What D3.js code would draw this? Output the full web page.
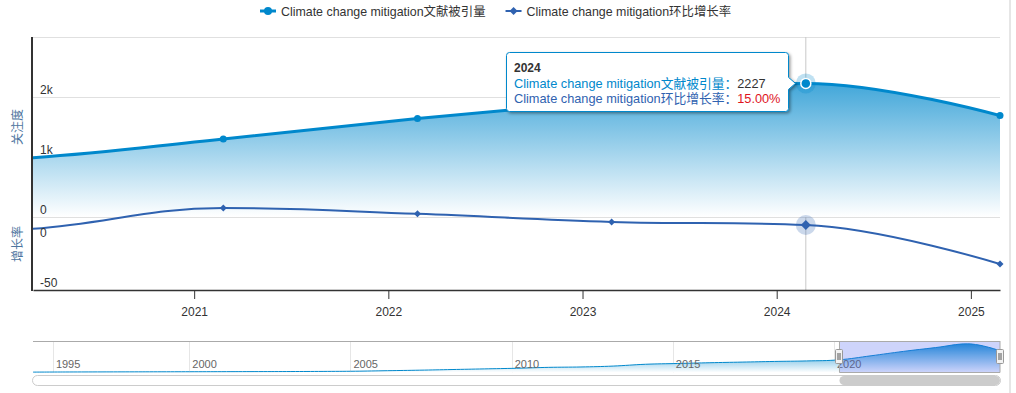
<!DOCTYPE html>
<html><head><meta charset="utf-8">
<script src="https://cdn.jsdelivr.net/npm/d3@7"></script>
<style>
body{margin:0;background:#fff;}
svg{display:block;font-family:"Liberation Sans",Arial,"Noto Sans CJK SC",sans-serif;}
</style>
</head><body>
<svg id="c" width="1016" height="393"></svg>
<script>
// ---------------- data ----------------
const years = [1993,1996,1997,1998,1999,2000,2001,2002,2003,2004,2005,2006,2007,2008,2009,2010,2011,2012,2013,2014,2015,2016,2017,2018,2019,2020,2021,2022,2023,2024,2025];
const citations = [30,40,45,50,55,60,65,70,75,85,100,140,180,230,280,330,400,430,500,640,700,760,810,860,900,985,1300,1640,1937,2227,1690];
const growthYears = [2019,2020,2021,2022,2023,2024,2025];
const growth = [6,11,32,26.2,18.1,15.0,-24.1];
const seriesNames = ["Climate change mitigation文献被引量","Climate change mitigation环比增长率"];
const xTickYears = [2021,2022,2023,2024,2025];
const navTickYears = [1995,2000,2005,2010,2015,2020];
const citationTicks = [0,1000,2000,3000];
const citationTickLabels = ["0","1k","2k",""];
const growthTicks = [0,-50];
const growthTickLabels = ["0","-50"];
const axisTitles = ["关注度","增长率"];
const hoverYear = 2024;
const recordOffset = 0.15;          // records dated late February of each year
const viewRange = [2020.17, 2025.15]; // zoomed range shown in main plot

// ---------------- styles ----------------
const C1 = "#0088cc", C2 = "#2f62b0";
const L = 33, R = 1000;
const svg = d3.select("#c");
const defs = svg.append("defs");

const t = y => y + recordOffset;
const citeData = years.map((y,i)=>({t:t(y), v:citations[i], y}));
const growData = growthYears.map((y,i)=>({t:t(y), v:growth[i], y}));

// Highcharts-like spline curve as a d3 curve factory
function curveHC(context){
  let pts;
  return {
    _line: NaN,
    areaStart(){ this._line = 0; },
    areaEnd(){ this._line = NaN; },
    lineStart(){ pts = []; },
    point(x,y){ pts.push([+x,+y]); },
    lineEnd(){
      if(!pts.length) return;
      if(this._line) context.lineTo(pts[0][0],pts[0][1]); else context.moveTo(pts[0][0],pts[0][1]);
      const s=1.5, d=2.5; let prevR=null;
      for(let i=1;i<pts.length;i++){
        const [px,py]=pts[i], [lx,ly]=pts[i-1];
        let lcx=px, lcy=py, rcx=null, rcy=null;
        if(i<pts.length-1){
          const [nx,ny]=pts[i+1];
          lcx=(s*px+lx)/d; lcy=(s*py+ly)/d; rcx=(s*px+nx)/d; rcy=(s*py+ny)/d;
          let corr=0;
          if(rcx!==lcx) corr=((rcy-lcy)*(rcx-px))/(rcx-lcx)+py-rcy;
          lcy+=corr; rcy+=corr;
          if(lcy>ly&&lcy>py){lcy=Math.max(ly,py); rcy=2*py-lcy;}
          else if(lcy<ly&&lcy<py){lcy=Math.min(ly,py); rcy=2*py-lcy;}
          if(rcy>ny&&rcy>py){rcy=Math.max(ny,py); lcy=2*py-rcy;}
          else if(rcy<ny&&rcy<py){rcy=Math.min(ny,py); lcy=2*py-rcy;}
        }
        const c1 = prevR || [lx,ly];
        context.bezierCurveTo(c1[0],c1[1],lcx,lcy,px,py);
        prevR = rcx!==null ? [rcx,rcy] : null;
      }
      if(this._line) context.closePath();
      this._line = 1 - this._line;
    }
  };
}

// ---------------- scales ----------------
const x = d3.scaleLinear().domain(viewRange).range([L,R]);
const yTop = d3.scaleLinear().domain([0,3000]).range([217,37]);
const yBot = d3.scaleLinear().domain([-50,23]).range([290,217]);

// gradients
const g1 = defs.append("linearGradient").attr("id","gTop").attr("gradientUnits","userSpaceOnUse")
  .attr("x1",0).attr("y1",yTop(3000)).attr("x2",0).attr("y2",yTop(0));
g1.append("stop").attr("offset",0).attr("stop-color",C1);
g1.append("stop").attr("offset",1).attr("stop-color","#fff");

defs.append("clipPath").attr("id","clipMain").append("rect")
  .attr("x",L).attr("y",30).attr("width",R-L).attr("height",262);

const sh = defs.append("filter").attr("id","shadow").attr("x","-10%").attr("y","-20%").attr("width","130%").attr("height","160%");
sh.append("feDropShadow").attr("dx",1.5).attr("dy",1.5).attr("stdDeviation",1.5).attr("flood-color","#000").attr("flood-opacity",0.4);

// page edge line at right
svg.append("rect").attr("x",1009).attr("y",0).attr("width",2).attr("height",393).attr("fill","#e6e6e6");

// ---------------- gridlines ----------------
svg.append("g").selectAll("line").data(citationTicks).join("line")
  .attr("x1",L).attr("x2",R).attr("y1",d=>Math.round(yTop(d))+0.5).attr("y2",d=>Math.round(yTop(d))+0.5)
  .attr("stroke","#e0e0e0").attr("stroke-width",1);

// crosshair
const hx = x(t(hoverYear));
svg.append("line").attr("x1",hx).attr("x2",hx).attr("y1",37).attr("y2",290).attr("stroke","#c8c8c8").attr("stroke-width",1);

// ---------------- series ----------------
const mainCite = citeData.filter(d=>d.y>=2019);
const gMain = svg.append("g").attr("clip-path","url(#clipMain)");
gMain.append("path").datum(mainCite)
  .attr("d", d3.area().x(d=>x(d.t)).y0(yTop(0)).y1(d=>yTop(d.v)).curve(curveHC))
  .attr("fill","url(#gTop)");
gMain.append("path").datum(mainCite)
  .attr("d", d3.line().x(d=>x(d.t)).y(d=>yTop(d.v)).curve(curveHC))
  .attr("fill","none").attr("stroke",C1).attr("stroke-width",3).attr("stroke-linejoin","round");
gMain.append("path").datum(growData)
  .attr("d", d3.line().x(d=>x(d.t)).y(d=>yBot(d.v)).curve(curveHC))
  .attr("fill","none").attr("stroke",C2).attr("stroke-width",2).attr("stroke-linejoin","round");

// ---------------- axes ----------------
svg.append("line").attr("x1",32).attr("x2",32).attr("y1",37).attr("y2",291).attr("stroke","#333").attr("stroke-width",2);
const xAxis = svg.append("g").attr("transform","translate(0,290)")
  .call(d3.axisBottom(x).tickValues(xTickYears).tickFormat(d3.format("d")).tickSize(9).tickPadding(8).tickSizeOuter(0));
xAxis.select(".domain").attr("stroke","#333").attr("stroke-width",1.5);
xAxis.selectAll(".tick line").attr("stroke","#333");
xAxis.selectAll("text").attr("fill","#333").attr("font-size",12).attr("font-family",null);

// y labels
svg.append("g").selectAll("text").data(citationTicks).join("text")
  .attr("x",40).attr("y",d=>yTop(d)-3).attr("font-size",12).attr("fill","#333")
  .text((d,i)=>citationTickLabels[i]);
svg.append("g").selectAll("text").data(growthTicks).join("text")
  .attr("x",40).attr("y",d=>yBot(d)-3).attr("font-size",12).attr("fill","#333")
  .text((d,i)=>growthTickLabels[i]);

// axis titles
svg.append("text").attr("transform",`translate(22,${(yTop.range()[0]+yTop.range()[1])/2}) rotate(-90)`)
  .attr("text-anchor","middle").attr("font-size",12).attr("fill","#4d759e").text(axisTitles[0]);
svg.append("text").attr("transform",`translate(22,244) rotate(-90)`)
  .attr("text-anchor","middle").attr("font-size",12).attr("fill","#4d759e").text(axisTitles[1]);

// ---------------- markers ----------------
const inView = d => d.t>=viewRange[0] && d.t<=viewRange[1];
const diamond = (cx,cy,r)=>`M${cx},${cy-r}L${cx+r},${cy}L${cx},${cy+r}L${cx-r},${cy}Z`;
svg.append("g").selectAll("circle").data(mainCite.filter(d=>inView(d)&&d.y!==hoverYear)).join("circle")
  .attr("cx",d=>x(d.t)).attr("cy",d=>yTop(d.v)).attr("r",3.5).attr("fill",C1);
svg.append("g").selectAll("path").data(growData.filter(d=>inView(d)&&d.y!==hoverYear)).join("path")
  .attr("d",d=>diamond(x(d.t),yBot(d.v),3.5)).attr("fill",C2);

// hovered points
const hc = citeData.find(d=>d.y===hoverYear), hg = growData.find(d=>d.y===hoverYear);
svg.append("circle").attr("cx",x(hc.t)).attr("cy",yTop(hc.v)).attr("r",10).attr("fill",C1).attr("fill-opacity",0.25);
svg.append("circle").attr("cx",x(hc.t)).attr("cy",yTop(hc.v)).attr("r",5).attr("fill",C1).attr("stroke","#fff").attr("stroke-width",1.5);
svg.append("circle").attr("cx",x(hg.t)).attr("cy",yBot(hg.v)).attr("r",10).attr("fill",C2).attr("fill-opacity",0.25);
svg.append("path").attr("d",diamond(x(hg.t),yBot(hg.v),5)).attr("fill",C2);

// ---------------- legend ----------------
const leg = svg.append("g");
let lx = 260;
seriesNames.forEach((name,i)=>{
  const gi = leg.append("g").attr("transform",`translate(${lx},0)`);
  gi.append("line").attr("x1",0).attr("x2",16).attr("y1",11).attr("y2",11).attr("stroke",i?C2:C1).attr("stroke-width",i?2:3);
  if(i===0) gi.append("circle").attr("cx",8).attr("cy",11).attr("r",4).attr("fill",C1);
  else gi.append("path").attr("d",diamond(8,11,4)).attr("fill",C2);
  const tx = gi.append("text").attr("x",21).attr("y",16).attr("font-size",12.4).attr("fill","#333").text(name);
  lx += 21 + tx.node().getComputedTextLength() + 20;
});

// ---------------- navigator ----------------
const navTop = 341, navBot = 372.5;
const navX = d3.scaleLinear().domain(years.map(t)).range(years.map((_,i)=>L + i*(R-L)/(years.length-1)));
const navY = d3.scaleLinear().domain([0, d3.max(citations)*1.1]).range([navBot, navTop]);
const g2 = defs.append("linearGradient").attr("id","gNav").attr("gradientUnits","userSpaceOnUse")
  .attr("x1",0).attr("y1",navTop).attr("x2",0).attr("y2",navBot);
g2.append("stop").attr("offset",0).attr("stop-color",C1);
g2.append("stop").attr("offset",1).attr("stop-color","#fff");

// navigator grid + labels
const nav = svg.append("g");
nav.selectAll("line.ng").data(navTickYears).join("line").attr("class","ng")
  .attr("x1",d=>Math.round(navX(d))+0.5).attr("x2",d=>Math.round(navX(d))+0.5).attr("y1",navTop).attr("y2",navBot)
  .attr("stroke","#e6e6e6");
nav.append("path").datum(citeData)
  .attr("d", d3.area().x(d=>navX(d.t)).y0(navBot).y1(d=>navY(d.v)).curve(curveHC)).attr("fill","url(#gNav)");
nav.append("path").datum(citeData)
  .attr("d", d3.line().x(d=>navX(d.t)).y(d=>navY(d.v)).curve(curveHC)).attr("fill","none").attr("stroke",C1).attr("stroke-width",1);
nav.selectAll("text").data(navTickYears).join("text")
  .attr("x",d=>navX(d)+3).attr("y",368).attr("font-size",11).attr("fill","#666").text(d=>d);

// mask
const m0 = navX(viewRange[0]), m1 = navX(viewRange[1]);
nav.append("rect").attr("x",m0).attr("y",navTop).attr("width",m1-m0).attr("height",navBot-navTop)
  .attr("fill","rgba(80,100,240,0.28)");
// outline
nav.append("path").attr("d",`M${L},${navTop+0.5}H${R}M${m0},${navTop}V${navBot}H${m1}V${navTop}`)
  .attr("fill","none").attr("stroke","#aaa").attr("stroke-width",1);
// handles
[m0,m1].forEach(hx0=>{
  const hx1 = Math.round(hx0);
  nav.append("rect").attr("x",hx1-3.5).attr("y",349.5).attr("width",7).attr("height",14).attr("rx",1)
    .attr("fill","#f2f2f2").attr("stroke","#999");
  nav.append("path").attr("d",`M${hx1-1},353V360M${hx1+1},353V360`).attr("stroke","#555").attr("stroke-width",1);
});

// scrollbar
svg.append("rect").attr("x",L-0.5).attr("y",375.5).attr("width",R-L+1).attr("height",10).attr("rx",5)
  .attr("fill","#fff").attr("stroke","#ccc");
svg.append("rect").attr("x",m0).attr("y",376).attr("width",R-m0).attr("height",9).attr("rx",4.5).attr("fill","#cccccc");

// ---------------- tooltip ----------------
const tip = svg.append("g");
const tpath = tip.append("path").attr("fill","#fff").attr("stroke",C1).attr("stroke-width",1).attr("filter","url(#shadow)");
const tt = tip.append("g");
const gi = growthYears.indexOf(hoverYear), ci = years.indexOf(hoverYear);
const TF = 12.75;
tt.append("text").attr("x",0).attr("y",0).attr("font-size",12).attr("font-weight","bold").attr("fill","#333").text(hoverYear);
const l2 = tt.append("text").attr("x",0).attr("y",15.5).attr("font-size",TF);
l2.append("tspan").attr("fill",C1).text(seriesNames[0]+"：");
l2.append("tspan").attr("fill","#333").text(citations[ci]);
const l3 = tt.append("text").attr("x",0).attr("y",31).attr("font-size",TF);
l3.append("tspan").attr("fill",C2).text(seriesNames[1]+"：");
l3.append("tspan").attr("fill","#e0141e").text(growth[gi].toFixed(2)+"%");
const bb = tt.node().getBBox();
const px = x(t(hoverYear)), py = yTop(citations[ci]);
const bw = Math.round(bb.width + 16), bh = 59;
const bx = Math.round(px - 18 - bw) + 0.5, by = Math.round(py - 31) + 0.5;
tt.attr("transform",`translate(${bx+7.5},${by+19.5})`);
const r = 3, ay = py, tipX = bx + bw + 7;
tpath.attr("d",`M${bx+r},${by}H${bx+bw-r}Q${bx+bw},${by} ${bx+bw},${by+r}V${ay-6}L${tipX},${ay}L${bx+bw},${ay+6}V${by+bh-r}Q${bx+bw},${by+bh} ${bx+bw-r},${by+bh}H${bx+r}Q${bx},${by+bh} ${bx},${by+bh-r}V${by+r}Q${bx},${by} ${bx+r},${by}Z`);
</script>
</body></html>
